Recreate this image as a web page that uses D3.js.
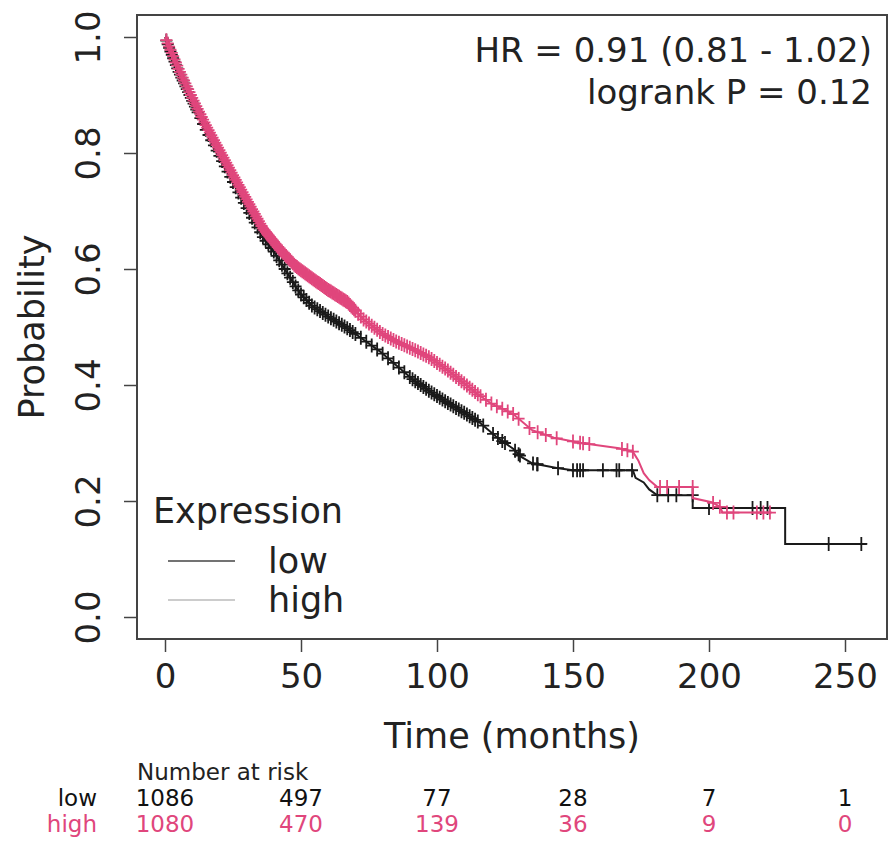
<!DOCTYPE html>
<html>
<head>
<meta charset="utf-8">
<script src="https://cdn.jsdelivr.net/npm/d3@7"></script>
<style>
body { margin: 0; background: #fff; }
text { font-family: "DejaVu Sans", sans-serif; fill: #222; }
</style>
</head>
<body>
<svg id="km" width="889" height="843"></svg>
<script>
// survival curve knots (time in months, probability)
var lowTimes = [0, 2, 5, 10, 15, 20, 25, 30, 36, 40, 44, 48, 50, 54, 60, 67, 73, 79, 85, 91, 97, 104, 110, 116, 122, 128, 131, 135, 144, 150, 172, 173, 176, 178, 181, 194, 194, 228, 228, 258];
var lowSurv = [1.0, 0.975, 0.94, 0.89, 0.84, 0.795, 0.75, 0.705, 0.655, 0.63, 0.60, 0.57, 0.556, 0.537, 0.518, 0.498, 0.478, 0.458, 0.434, 0.41, 0.39, 0.369, 0.352, 0.334, 0.31, 0.29, 0.276, 0.265, 0.257, 0.253, 0.253, 0.24, 0.232, 0.22, 0.21, 0.21, 0.188, 0.188, 0.126, 0.126];

var highTimes = [0, 2, 5, 10, 15, 20, 25, 30, 36, 42, 48, 54, 60, 67, 73, 80, 85, 92, 97, 104, 110, 115, 120, 128, 135, 143, 153, 167, 172, 174, 176, 178, 181, 194, 194, 201, 204, 205, 223];
var highSurv = [1.0, 0.978, 0.945, 0.895, 0.848, 0.805, 0.762, 0.72, 0.67, 0.635, 0.605, 0.584, 0.564, 0.543, 0.513, 0.488, 0.475, 0.46, 0.448, 0.425, 0.403, 0.384, 0.368, 0.35, 0.322, 0.309, 0.30, 0.291, 0.285, 0.27, 0.248, 0.236, 0.224, 0.224, 0.205, 0.198, 0.19, 0.18, 0.18];

// censored observations (months)
var lowCensor = [0.5, 1, 1.5, 2, 2.5, 3, 3.5, 4, 4.5, 5, 5.5, 6, 6.5, 7, 7.5, 8, 8.5, 9, 9.5, 10, 10.5, 11, 11.5, 12, 13, 14, 15, 16, 17, 18, 19, 20, 21, 22, 23, 24, 25, 26, 27, 28, 29, 30, 31, 32, 33, 34, 35, 36, 37, 38, 39, 40, 41, 42, 43, 44, 45, 46, 47, 48, 49, 50, 51, 52, 53, 54, 55, 56, 57, 58, 59, 60, 61, 62, 63, 64, 65, 66, 67, 68, 69, 70, 72, 74, 76, 78, 80, 82, 84, 86, 88, 90, 91, 92, 93, 94, 95, 96, 97, 98, 99, 100, 101, 102, 103, 104, 105, 106, 107, 108, 109, 110, 111, 112, 113, 114, 115, 117, 120.6, 122.4, 124, 125, 128.7, 130, 130.5, 135.3, 136.8, 137, 144.5, 150, 151.5, 152.6, 153.7, 161, 166, 167, 171.7, 181, 185, 188, 194, 200, 216, 219, 221.5, 244, 256];
var highCensor = [0.5, 1, 1.5, 2, 2.5, 3, 3.5, 4, 4.5, 5, 5.5, 6, 6.5, 7, 7.5, 8, 8.5, 9, 9.5, 10, 10.5, 11, 11.5, 12, 12.5, 13, 13.5, 14, 14.5, 15, 15.5, 16, 16.5, 17, 17.5, 18, 18.5, 19, 19.5, 20, 20.5, 21, 21.5, 22, 22.5, 23, 23.5, 24, 24.5, 25, 25.5, 26, 26.5, 27, 27.5, 28, 28.5, 29, 29.5, 30, 30.5, 31, 31.5, 32, 32.5, 33, 33.5, 34, 34.5, 35, 35.5, 36, 36.5, 37, 37.5, 38, 38.5, 39, 39.5, 40, 40.5, 41, 41.5, 42, 42.5, 43, 43.5, 44, 44.5, 45, 45.5, 46, 46.5, 47, 47.5, 48, 48.5, 49, 49.5, 50, 50.5, 51, 51.5, 52, 52.5, 53, 53.5, 54, 54.5, 55, 55.5, 56, 56.5, 57, 57.5, 58, 58.5, 59, 59.5, 60, 60.5, 61, 61.5, 62, 62.5, 63, 63.5, 64, 64.5, 65, 65.5, 66, 66.5, 67, 67.5, 68, 68.5, 69, 69.5, 70, 71, 72, 73, 74, 75, 76, 77, 78, 79, 80, 81, 82, 83, 84, 85, 86, 87, 88, 89, 90, 91, 92, 93, 94, 95, 96, 97, 98, 99, 100, 101, 102, 103, 104, 105, 106, 107, 108, 109, 110, 111, 112, 113, 114, 115, 116, 118, 120, 122, 124, 126, 128, 130, 134, 137, 140, 144, 150, 152.6, 153.7, 156, 168, 170, 172, 182, 184.6, 189, 194, 201.5, 204, 206.6, 209, 217.6, 220, 222.4];

var xTicks = [0, 50, 100, 150, 200, 250];
var yTicks = [0.0, 0.2, 0.4, 0.6, 0.8, 1.0];
var groups = ['low', 'high'];
var riskLow = [1086, 497, 77, 28, 7, 1];
var riskHigh = [1080, 470, 139, 36, 9, 0];

var pink = '#e0467c';

var box = {left: 137, top: 15, right: 887, bottom: 639};

var x = d3.scaleLinear().domain([0, 250]).range([165, 845]);
var y = d3.scaleLinear().domain([0, 1]).range([617, 37]);

var svg = d3.select('#km');

svg.append('rect')
    .attr('x', box.left).attr('y', box.top)
    .attr('width', box.right - box.left).attr('height', box.bottom - box.top)
    .attr('fill', 'none').attr('stroke', '#444').attr('stroke-width', 2);

// axes
var xAxis = svg.append('g')
    .attr('transform', 'translate(0,' + box.bottom + ')')
    .call(d3.axisBottom(x).tickValues(xTicks).tickSize(13).tickPadding(12).tickFormat(d3.format('d')));
xAxis.select('.domain').remove();
xAxis.selectAll('line').attr('stroke', '#444').attr('stroke-width', 1.5);
xAxis.selectAll('text').style('font-size', '34px').attr('fill', '#222');

var yAxis = svg.append('g')
    .attr('transform', 'translate(' + box.left + ',0)')
    .call(d3.axisLeft(y).tickValues(yTicks).tickSize(13).tickFormat(d3.format('.1f')));
yAxis.select('.domain').remove();
yAxis.selectAll('line').attr('stroke', '#444').attr('stroke-width', 1.5);
yAxis.selectAll('text')
    .attr('x', 0).attr('dy', 0)
    .attr('text-anchor', 'middle')
    .attr('transform', 'translate(-37,0) rotate(-90)')
    .style('font-size', '34px').attr('fill', '#222');

svg.append('text')
    .attr('transform', 'translate(44,' + ((box.top + box.bottom) / 2) + ') rotate(-90)')
    .attr('text-anchor', 'middle')
    .style('font-size', '35px')
    .text('Probability');

svg.append('text')
    .attr('x', (box.left + box.right) / 2).attr('y', 748)
    .attr('text-anchor', 'middle')
    .style('font-size', '35px')
    .text('Time (months)');

// curves
function pts(times, surv) {
    return times.map(function(t, i) { return [t, surv[i]]; });
}

function survAt(times, surv, t) {
    for (var i = 0; i < times.length - 1; i++) {
        if (times[i + 1] > times[i] && t >= times[i] && t <= times[i + 1]) {
            return surv[i] + (surv[i + 1] - surv[i]) * (t - times[i]) / (times[i + 1] - times[i]);
        }
    }
    return surv[surv.length - 1];
}

var line = d3.line()
    .x(function(d) { return x(d[0]); })
    .y(function(d) { return y(d[1]); });

var series = [
    {name: 'low', times: lowTimes, surv: lowSurv, censor: lowCensor, color: '#1a1a1a'},
    {name: 'high', times: highTimes, surv: highSurv, censor: highCensor, color: pink}
];

series.forEach(function(s) {
    var g = svg.append('g').attr('class', 'curve-' + s.name);
    g.append('path')
        .attr('d', line(pts(s.times, s.surv)))
        .attr('fill', 'none')
        .attr('stroke', s.color)
        .attr('stroke-width', 2);

    g.selectAll('.cens')
        .data(s.censor)
        .enter().append('path')
        .attr('class', 'cens')
        .attr('d', function(t) {
            var cx = x(t), cy = y(survAt(s.times, s.surv, t));
            return 'M' + (cx - 6) + ',' + cy + 'H' + (cx + 6) + 'M' + cx + ',' + (cy - 7) + 'V' + (cy + 7);
        })
        .attr('stroke', s.color)
        .attr('stroke-width', 1.8)
        .attr('fill', 'none');
});

// stats text
svg.append('text')
    .attr('x', 872).attr('y', 62)
    .attr('text-anchor', 'end')
    .style('font-size', '34px')
    .text('HR = 0.91 (0.81 - 1.02)');
svg.append('text')
    .attr('x', 872).attr('y', 104)
    .attr('text-anchor', 'end')
    .style('font-size', '34px')
    .text('logrank P = 0.12');

// legend
svg.append('text')
    .attr('x', 153).attr('y', 523)
    .style('font-size', '35px')
    .text('Expression');

var legendColors = ['#444', '#bbb'];
groups.forEach(function(g, i) {
    var ly = 561 + i * 39;
    svg.append('line')
        .attr('x1', 168).attr('x2', 235)
        .attr('y1', ly).attr('y2', ly)
        .attr('stroke', legendColors[i])
        .attr('stroke-width', 1.5);
    svg.append('text')
        .attr('x', 268).attr('y', ly + 12)
        .style('font-size', '35px')
        .text(g);
});

// number at risk table
svg.append('text')
    .attr('x', 137).attr('y', 780)
    .style('font-size', '23px')
    .text('Number at risk');

var riskRows = [
    {name: 'low', values: riskLow, color: '#111'},
    {name: 'high', values: riskHigh, color: pink}
];

riskRows.forEach(function(r, i) {
    var ry = 806 + i * 26;
    svg.append('text')
        .attr('x', 97).attr('y', ry)
        .attr('text-anchor', 'end')
        .style('font-size', '23px')
        .style('fill', r.color)
        .text(r.name);
    svg.selectAll('.risk-' + r.name)
        .data(r.values)
        .enter().append('text')
        .attr('class', 'risk-' + r.name)
        .attr('x', function(d, j) { return x(xTicks[j]); })
        .attr('y', ry)
        .attr('text-anchor', 'middle')
        .style('font-size', '23px')
        .style('fill', r.color)
        .text(function(d) { return d; });
});
</script>
</body>
</html>
